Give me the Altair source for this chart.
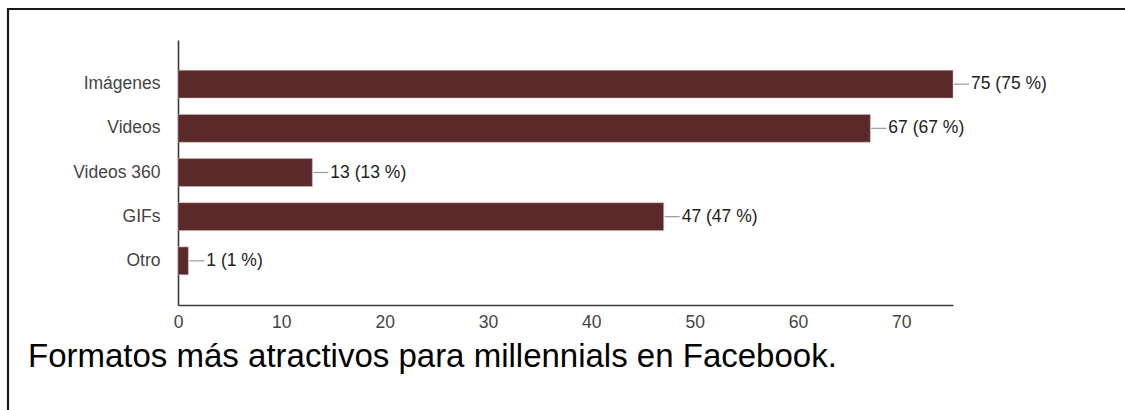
import altair as alt
import pandas as pd

categories = ["Imágenes", "Videos", "Videos 360", "GIFs", "Otro"]
counts = [75, 67, 13, 47, 1]
percents = [75, 67, 13, 47, 1]
x_ticks = [0, 10, 20, 30, 40, 50, 60, 70]
caption = "Formatos más atractivos para millennials en Facebook."

df = pd.DataFrame({
    "cat": categories,
    "n": counts,
    "label": [f"{c} ({p} %)" for c, p in zip(counts, percents)],
})

FONT = "Liberation Sans"

y_enc = alt.Y("cat:N", sort=categories, title=None,
              scale=alt.Scale(paddingInner=0.37, paddingOuter=0.685),
              axis=alt.Axis(ticks=False, labelPadding=18, labelFontSize=17.5,
                            labelColor="#444444", labelFont=FONT,
                            domainColor="#3a3a3a", domainWidth=1.6))
x_enc = alt.X("n:Q", title=None,
              scale=alt.Scale(domain=[0, 75], nice=False),
              axis=alt.Axis(values=x_ticks, ticks=False, grid=False, labelPadding=8,
                            labelFontSize=17.5, labelColor="#444444", labelFont=FONT,
                            domainColor="#3a3a3a", domainWidth=1.6, labelFlush=False))

base = alt.Chart(df)

bars = base.mark_bar(color="#5a2a2a", stroke="#c9b8b8", strokeWidth=0.5).encode(x=x_enc, y=y_enc)

leaders = base.mark_rule(color="#9a9a9a", strokeWidth=1.2, xOffset=1, x2Offset=16).encode(
    x="n:Q", x2="n:Q", y=alt.Y("cat:N", sort=categories))

labels = base.mark_text(align="left", baseline="middle", dx=18, fontSize=17.5,
                        font=FONT, color="#222222").encode(
    x="n:Q", y=alt.Y("cat:N", sort=categories), text="label:N")

frame_data = alt.Data(values=[{"k": 1}])
top_line = alt.Chart(frame_data).mark_rule(color="#1a1a1a", strokeWidth=2.2).encode(
    x=alt.value(-171), x2=alt.value(950), y=alt.value(-31))
left_line = alt.Chart(frame_data).mark_rule(color="#1a1a1a", strokeWidth=2.2).encode(
    x=alt.value(-170), y=alt.value(-32), y2=alt.value(380))

cap = alt.Chart(alt.Data(values=[{"t": caption}])).mark_text(
    align="left", baseline="alphabetic", fontSize=33, font=FONT, color="#000000").encode(
    x=alt.value(-150), y=alt.value(327), text="t:N")

chart = alt.layer(bars, leaders, labels, top_line, left_line, cap).properties(
    width=775, height=265,
    autosize=alt.AutoSizeParams(type="none"),
    padding={"left": 178, "top": 40, "right": 172, "bottom": 105},
    background="white",
).configure_view(strokeWidth=0, stroke=None)

chart.save("out.html", embed_options={"renderer": "svg", "actions": False})
